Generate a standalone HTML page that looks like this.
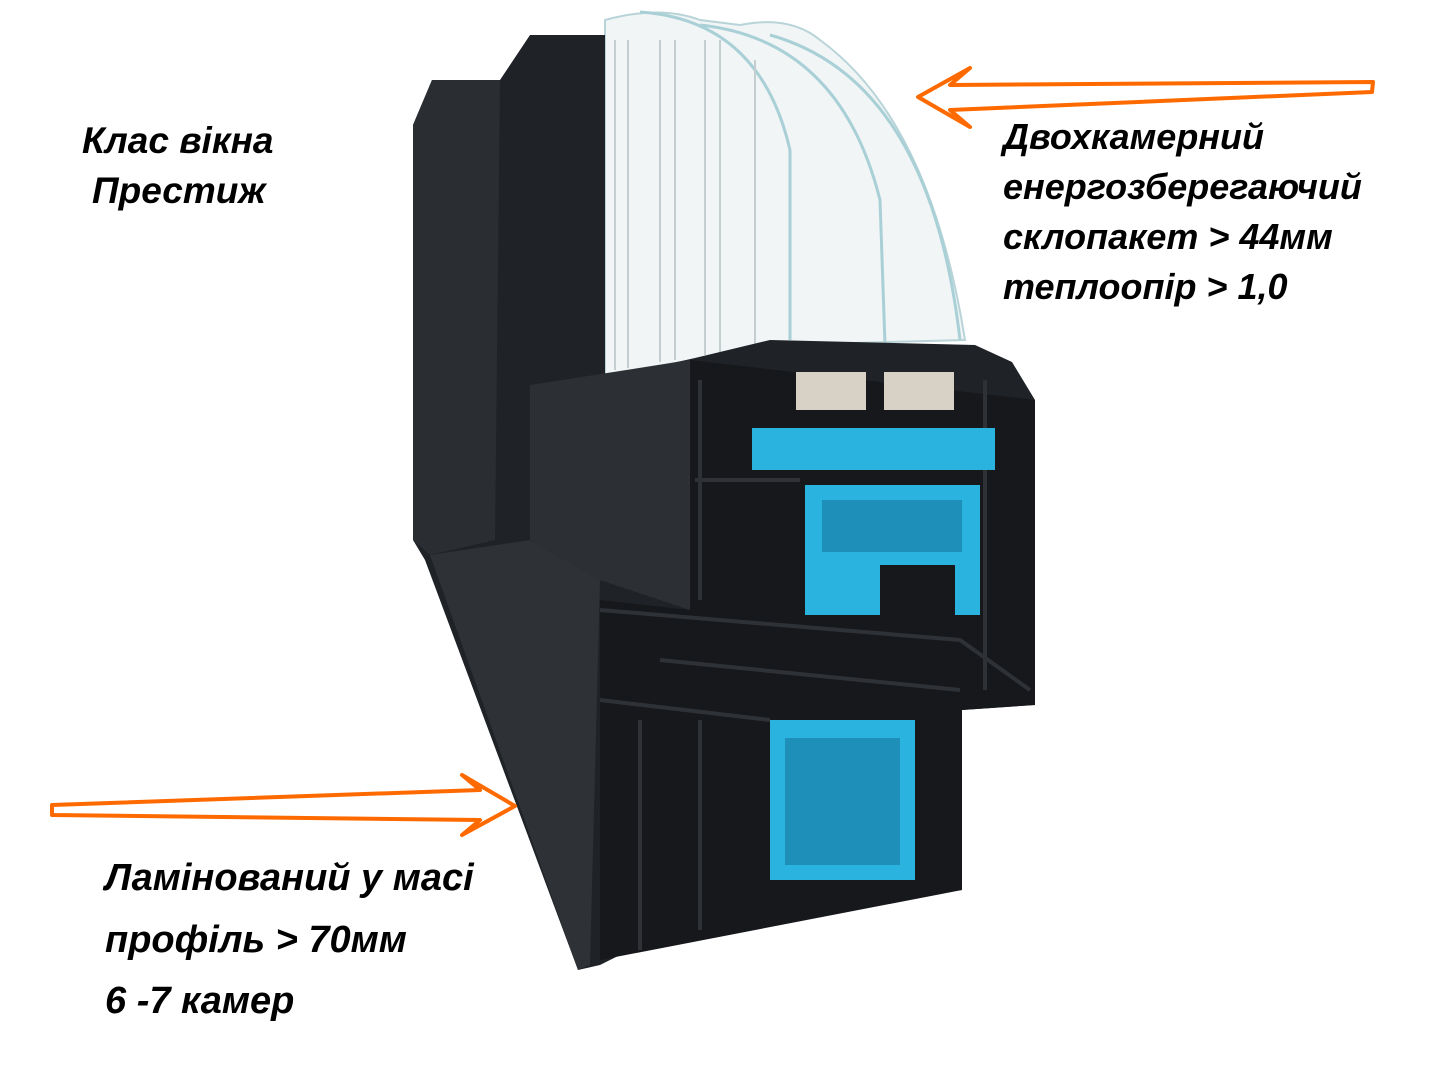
<!DOCTYPE html>
<html><head><meta charset="utf-8"><style>
html,body{margin:0;padding:0;background:#fff;width:1440px;height:1080px;overflow:hidden}
.t{position:absolute;font-family:"Liberation Sans","DejaVu Sans",sans-serif;font-weight:bold;font-style:italic;color:#000;white-space:nowrap}
</style></head><body>
<svg width="1440" height="1080" style="position:absolute;left:0;top:0">
<path d="M605,20 Q660,5 700,20 L740,25 Q790,15 820,40 Q930,120 965,340 L780,345 L605,375 Z" fill="#f1f5f6" stroke="#b8d4d8" stroke-width="2"/>
<path d="M640,12 Q760,20 790,150 L790,340" fill="none" stroke="#a9d0d6" stroke-width="3"/>
<path d="M700,25 Q840,40 880,200 L885,345" fill="none" stroke="#a9d0d6" stroke-width="3"/>
<path d="M770,35 Q930,80 960,340" fill="none" stroke="#a9d0d6" stroke-width="3"/>
<g stroke="#c4cdd0" stroke-width="2">
<line x1="615" y1="40" x2="615" y2="370"/><line x1="628" y1="40" x2="628" y2="368"/><line x1="660" y1="40" x2="660" y2="362"/><line x1="675" y1="40" x2="675" y2="360"/><line x1="705" y1="40" x2="705" y2="355"/><line x1="720" y1="40" x2="720" y2="352"/><line x1="755" y1="60" x2="755" y2="345"/>
</g>
<path d="M413,125 L432,80 L500,80 L530,35 L605,35 L605,378 L695,358 L770,340 L975,345 L1012,362 L1035,400 L1035,705 L962,710 L962,890 L920,895 L770,905 L660,935 L600,965 L578,970 L425,560 L413,540 Z" fill="#1f2226"/>
<path d="M432,80 L500,80 L495,540 L430,555 L413,540 L413,125 Z" fill="#2a2d32"/>
<path d="M530,385 L690,360 L690,610 L600,580 L530,540 Z" fill="#2c2f34"/>
<path d="M430,555 L530,540 L600,580 L590,965 L578,970 Z" fill="#2e3136"/>
<path d="M690,360 L1035,400 L1035,705 L962,710 L962,890 L600,960 L600,600 L690,610 Z" fill="#16181b"/>
<g fill="none" stroke="#2e3237" stroke-width="4">
<path d="M600,610 L960,640 L1030,690"/><path d="M695,480 L800,480"/><path d="M660,660 L960,690"/><path d="M600,700 L770,720"/>
<path d="M700,380 L700,600"/><path d="M985,380 L985,690"/><path d="M640,720 L640,950"/><path d="M700,720 L700,930"/>
</g>
<path d="M752,428 L995,428 L995,470 L752,470 Z" fill="#2bb3e0"/>
<path d="M805,485 L980,485 L980,615 L955,615 L955,565 L880,565 L880,615 L805,615 Z" fill="#2bb3e0"/>
<path d="M822,500 L962,500 L962,552 L822,552 Z" fill="#1e8fb8"/>
<path d="M770,720 L915,720 L915,880 L770,880 Z" fill="#2bb3e0"/>
<path d="M785,738 L900,738 L900,865 L785,865 Z" fill="#1e8fb8"/>
<rect x="796" y="372" width="70" height="38" fill="#d8d2c6"/>
<rect x="884" y="372" width="70" height="38" fill="#d8d2c6"/>
<g fill="none" stroke="#ff6a00" stroke-width="4" stroke-linejoin="round">
<path d="M1373,82 L1372,92 L950,110 L970,127 L918,97 L970,68 L950,85 Z"/>
<path d="M52,805 L480,790 L462,775 L515,806 L462,835 L480,820 L52,815 Z"/>
</g>
</svg>
<div class="t" style="left:82px;top:120px;font-size:37px">Клас вікна</div>
<div class="t" style="left:92px;top:170px;font-size:37px">Престиж</div>
<div class="t" style="left:1003px;top:112px;font-size:36px;line-height:50px">Двохкамерний<br>енергозберегаючий<br>склопакет &gt; 44мм<br>теплоопір &gt; 1,0</div>
<div class="t" style="left:105px;top:848px;font-size:38px;line-height:61.5px">Ламінований у масі<br>профіль &gt; 70мм<br>6 -7 камер</div>
</body></html>
